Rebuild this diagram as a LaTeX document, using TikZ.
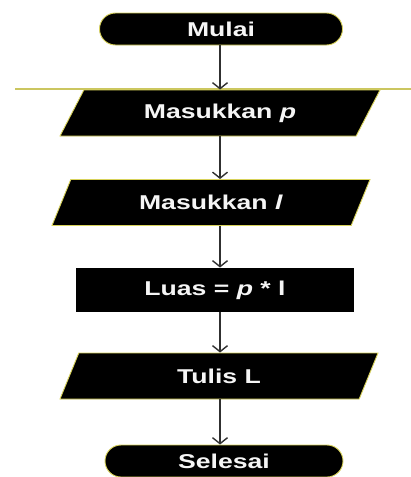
\documentclass[tikz,border=0pt]{standalone}
\usepackage{graphicx}
\usepackage{fontspec}
\setmainfont{Liberation Sans}
\usetikzlibrary{shapes.geometric,shapes.misc,arrows.meta}
\definecolor{glow}{HTML}{D8D25A}
\definecolor{linegray}{HTML}{303030}
\newcommand{\wide}[1]{\scalebox{1.33}[1]{#1}}
\tikzset{
  base/.style={fill=black, draw=glow, line width=0.9pt, text=white!92!gray, inner sep=0pt,
    font=\fontsize{20}{22}\selectfont\bfseries},
  term/.style={base, rounded rectangle, minimum height=32pt},
  io/.style={base, trapezium, trapezium left angle=38, trapezium right angle=142,
    trapezium stretches body=true, minimum height=46pt},
  proc/.style={base, rectangle, draw=none, minimum height=44pt},
  arr/.style={draw=linegray, line width=1.6pt, -{Straight Barb[length=6pt,width=15pt,line width=1.4pt]}},
}
\begin{document}
\begin{tikzpicture}[x=1pt,y=-1pt]
\useasboundingbox (0,0) rectangle (411,477);
\coordinate (ylL) at (15,89);
\coordinate (ylR) at (411,89);
\draw[glow!85!gray, line width=1.4pt] (ylL) -- (ylR);
\node[term, minimum width=243pt] (mulai) at (221,29) {\wide{Mulai}};
\node[io, minimum width=320pt] (p1) at (220,113) {\wide{Masukkan \textit{p}}};
\node[io, minimum width=318pt] (p2) at (211,202.5) {\wide{Masukkan \textit{l}}};
\node[proc, minimum width=278pt] (luas) at (215,290) {\wide{Luas = \textit{p} * l}};
\node[io, minimum width=318pt] (p3) at (219,376) {\wide{Tulis L}};
\node[term, minimum width=238pt] (sel) at (224,461) {\wide{Selesai}};
\draw[arr] (mulai.south -| p1.north) -- (p1.north);
\draw[arr] (p1.south) -- (p1.south |- p2.north);
\draw[arr] (p1.south |- p2.south) -- (p1.south |- luas.north);
\draw[arr] (p1.south |- luas.south) -- (p1.south |- p3.north);
\draw[arr] (p1.south |- p3.south) -- (p1.south |- sel.north);
\end{tikzpicture}
\end{document}
